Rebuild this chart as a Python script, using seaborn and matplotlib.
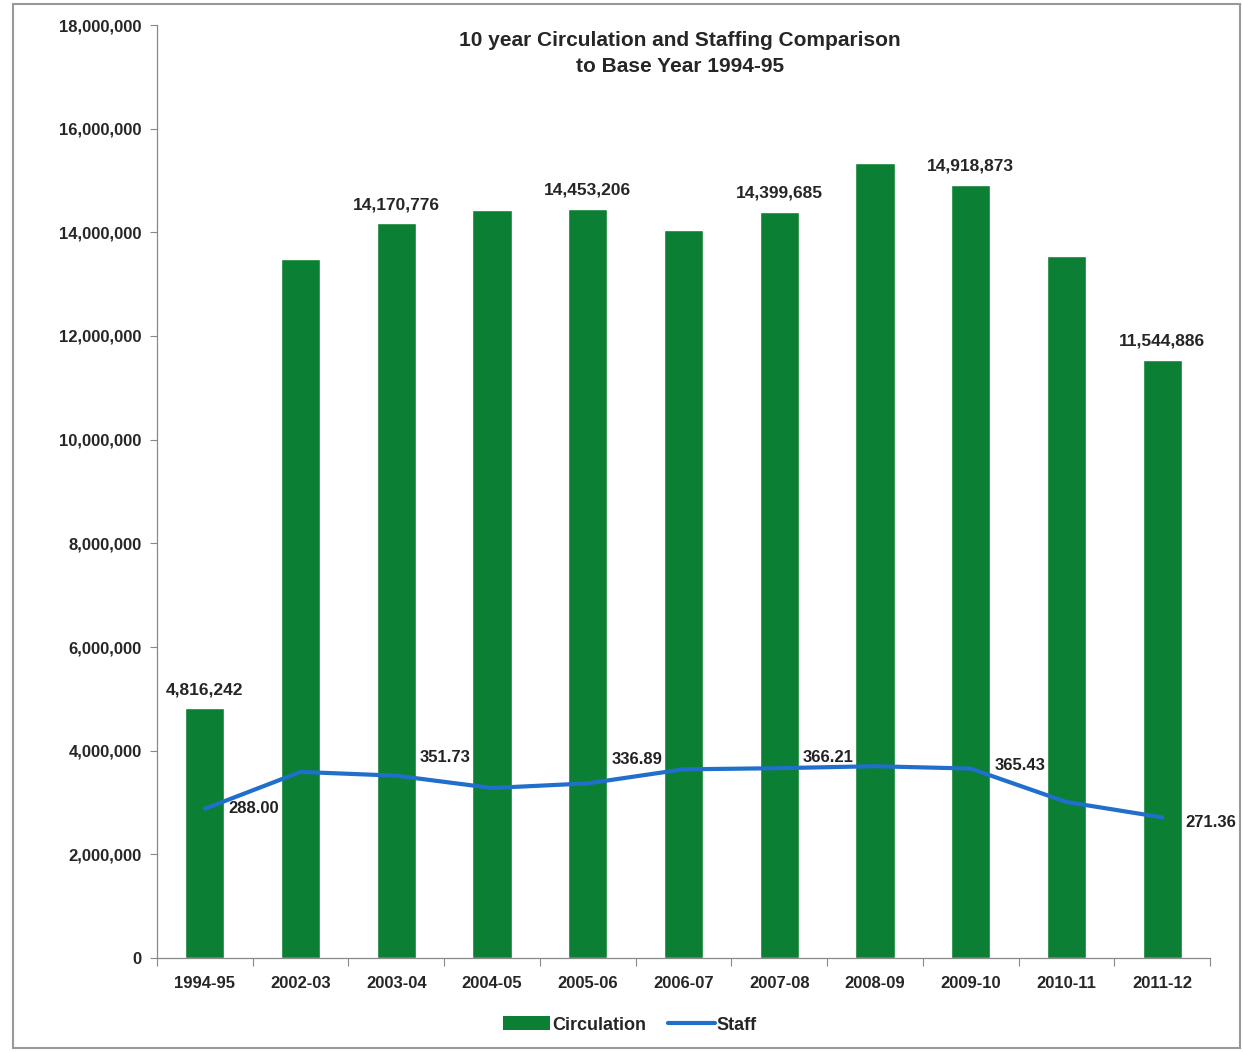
import numpy as np
import pandas as pd
import matplotlib
matplotlib.use("Agg")
import matplotlib.pyplot as plt
import seaborn as sns
from matplotlib.patches import Patch, Rectangle
from matplotlib.lines import Line2D

years = ["1994-95", "2002-03", "2003-04", "2004-05", "2005-06", "2006-07",
         "2007-08", "2008-09", "2009-10", "2010-11", "2011-12"]
circulation = [4816242, 13490000, 14170776, 14430000, 14453206, 14050000,
               14399685, 15340000, 14918873, 13540000, 11544886]
staff = [288.00, 359.0, 351.73, 328.0, 336.89, 364.0, 366.21, 370.0, 365.43, 301.0, 271.36]
labeled = [True, False, True, False, True, False, True, False, True, False, True]

sns.set_theme(style="white")
plt.rcParams["font.family"] = ["Liberation Sans", "DejaVu Sans"]

fig = plt.figure(figsize=(12.43, 10.52), dpi=100)
ax = fig.add_axes([157 / 1243, 1 - 958 / 1052, (1210 - 157) / 1243, (958 - 25) / 1052])

df = pd.DataFrame({"year": years, "circ": circulation})
green = "#0B7F33"
blue = "#1F6FCB"
sns.barplot(data=df, x="year", y="circ", color=green, saturation=1, width=0.41, ax=ax)
ax.set_ylim(0, 18000000)
ax.set_yticks(np.arange(0, 18000001, 2000000))
ax.set_yticklabels([f"{v:,.0f}" for v in np.arange(0, 18000001, 2000000)],
                   fontsize=12, fontweight="bold")
ax.set_xticks(range(len(years)))
ax.set_xticklabels(years, fontsize=12, fontweight="bold")
ax.tick_params(axis="x", length=0, pad=13)
ax.tick_params(axis="y", length=5, width=0.8, color="#888888", left=True, pad=6)
ax.set_xticks(np.arange(-0.5, len(years), 1), minor=True)
ax.tick_params(axis="x", which="minor", length=6, width=0.8, color="#888888", bottom=True)
ax.set_xlim(-0.5, len(years) - 0.5)
ax.set_xlabel("")
ax.set_ylabel("")
for s in ["top", "right"]:
    ax.spines[s].set_visible(False)
for s in ["left", "bottom"]:
    ax.spines[s].set_color("#888888")
    ax.spines[s].set_linewidth(0.9)

bar_labels = [f"{v:,.0f}" if l else "" for v, l in zip(circulation, labeled)]
ax.bar_label(ax.containers[0], labels=bar_labels, padding=8, fontsize=12.5, fontweight="bold")

ax2 = ax.twinx()
sns.lineplot(x=np.arange(len(years)), y=staff, color=blue, linewidth=3, ax=ax2)
ax2.set_ylim(0, 1800)
ax2.axis("off")
offsets = [(17, 0), (0, 0), (17, 13), (0, 0), (17, 17), (0, 0), (17, 8), (0, 0), (17, 2), (0, 0), (17, -4)]
for i, (v, l) in enumerate(zip(staff, labeled)):
    if l:
        ax2.annotate(f"{v:.2f}", (i, v), xytext=offsets[i], textcoords="offset points",
                     ha="left", va="center", fontsize=12, fontweight="bold", color="#222222")

fig.text(0.547, 1 - 31 / 1052, "10 year Circulation and Staffing Comparison\nto Base Year 1994-95",
         ha="center", va="top", fontsize=15, fontweight="bold", linespacing=1.5)

handles = [Patch(facecolor=green, edgecolor="none"), Line2D([0], [0], color=blue, lw=3)]
fig.legend(handles, ["Circulation", "Staff"], loc="center", bbox_to_anchor=(630 / 1243, 1 - 1025 / 1052),
           ncol=2, frameon=False, prop={"weight": "bold", "size": 13},
           handlelength=2.6, handleheight=0.8, handletextpad=0.1, columnspacing=1.2)

fig.patches.append(Rectangle((13 / 1243, 4 / 1052), (1240 - 13) / 1243, (1048 - 4) / 1052,
                             transform=fig.transFigure, fill=False, edgecolor="#999999", lw=1.5))

fig.savefig("out.png", dpi=100)
